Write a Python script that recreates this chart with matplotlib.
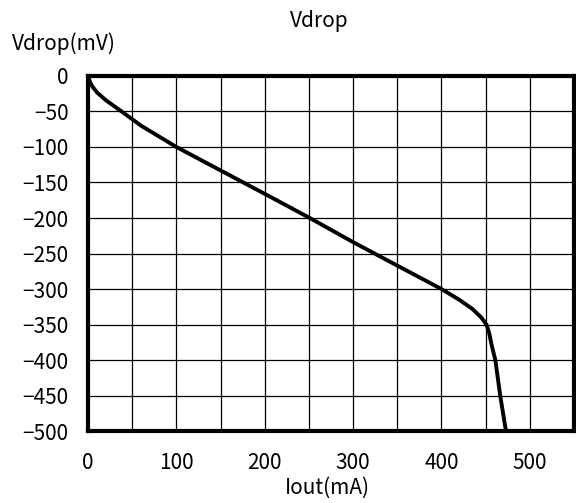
import matplotlib
matplotlib.use("Agg")
import matplotlib.pyplot as plt
import numpy as np

plt.rcParams['font.family'] = ['Noto Sans CJK JP', 'DejaVu Sans']

# curve
iout = [0, 2, 5, 10, 20, 38, 60, 100, 150, 200, 251, 300, 350, 400, 420, 435, 445, 451, 454, 457, 461, 466.5, 473]
vdrop = [0, -8, -15, -23, -34, -50, -70, -100, -133, -166, -200, -234, -267, -300, -315, -328, -340, -350, -362, -380, -400, -450, -500]

xticks = [0, 100, 200, 300, 400, 500]
yticks = list(range(0, -501, -50))

fig = plt.figure(figsize=(5.76, 5.03), dpi=100)
ax = fig.add_axes([0.1528, 0.143, 0.8437, 0.706])

ax.plot(iout, vdrop, color="black", lw=2.8, solid_capstyle="butt", zorder=3)

ax.set_xlim(0, 550)
ax.set_ylim(-500, 0)
grid_x = np.arange(0, 551, 50)
ax.set_xticks(grid_x)
ax.set_yticks(yticks)
ax.grid(True, color="black", lw=0.9)
ax.set_xticklabels([str(v) if v in xticks else "" for v in grid_x])
ax.set_yticklabels([str(v).replace("-", "\u2212") for v in yticks])
ax.tick_params(length=0, labelsize=15)
ax.tick_params(axis="x", pad=15)
ax.tick_params(axis="y", pad=14)
for s in ax.spines.values():
    s.set_linewidth(3)
    s.set_zorder(4)

fig.text(0.555, 0.958, "Vdrop", ha="center", va="center", fontsize=15)
fig.text(0.02, 0.913, "Vdrop(mV)", ha="left", va="center", fontsize=15)
fig.text(0.569, 0.03, "Iout(mA)", ha="center", va="center", fontsize=15)

fig.savefig("out.png", dpi=100)
